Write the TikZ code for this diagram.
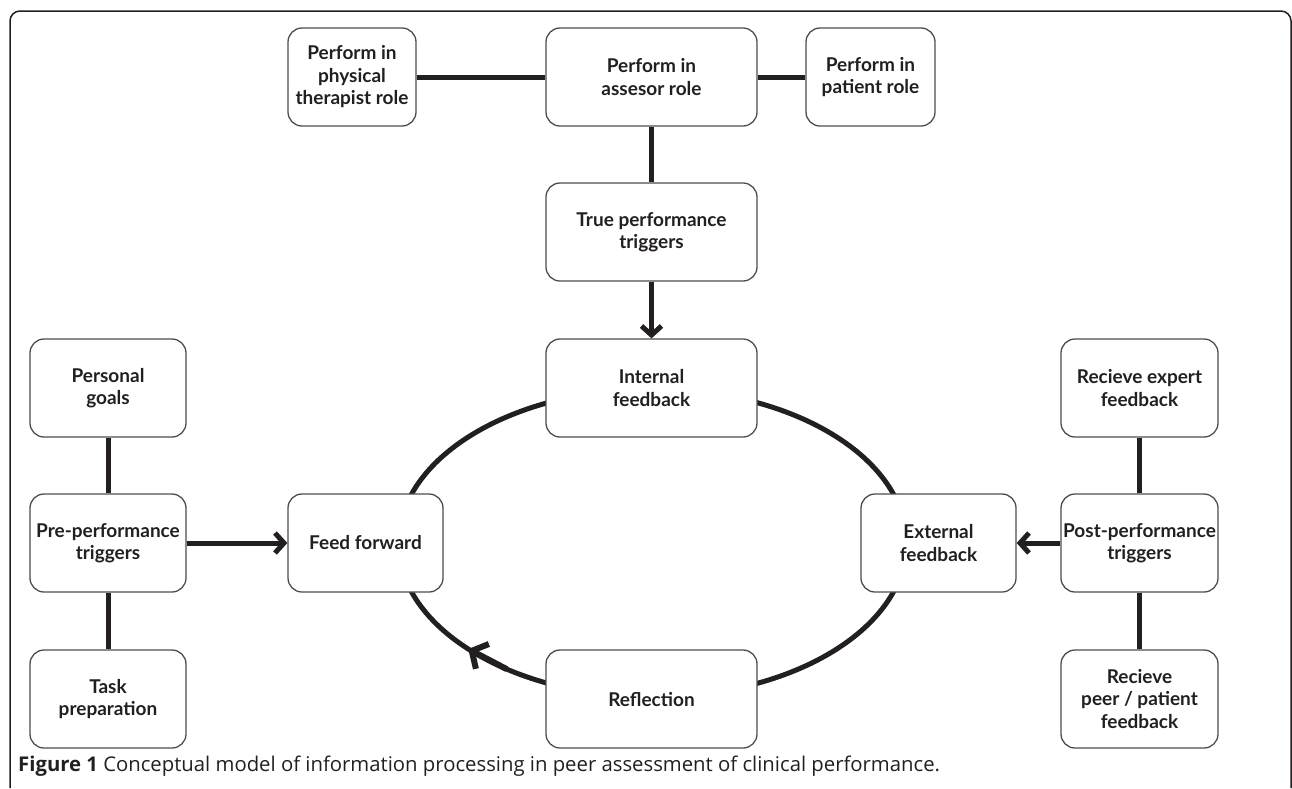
\documentclass[tikz,border=0pt]{standalone}
\usepackage{fontspec}
\setmainfont{Lato}
\newfontfamily\capfont{Open Sans}
\usetikzlibrary{arrows.meta}
\definecolor{ink}{HTML}{231F20}
\definecolor{edgegray}{HTML}{4D4D4F}
\begin{document}
\begin{tikzpicture}[x=1pt,y=-1pt,
  box/.style={draw=edgegray, line width=1.3pt, fill=white, rounded corners=14pt,
    align=center, font=\bfseries\fontsize{19}{22.5}\selectfont, text=ink,
    inner sep=0pt, minimum height=98pt},
  link/.style={draw=ink, line width=5pt},
  arr/.style={link, -{Straight Barb[length=9pt,width=20pt]}},
]
\useasboundingbox (0,0) rectangle (1292,788);
\draw[draw=ink, line width=1.5pt, rounded corners=10pt] (10,788) -- (10,11) -- (1291,11) -- (1291,788);

% cycle
\coordinate (ec) at (652.5,543);
\draw[link] (ec) ellipse [x radius=254, y radius=154];

% boxes
\node[box, minimum width=128pt] (phys) at (352,77) {Perform in\\physical\\therapist role};
\node[box, minimum width=211pt] (asses) at (651.5,77) {Perform in\\assesor role};
\node[box, minimum width=129pt] (pat) at (870.5,77) {Perform in\\patient role};
\node[box, minimum width=211pt] (true) at (651.5,232) {True performance\\triggers};
\node[box, minimum width=211pt] (int) at (651.5,388) {Internal\\feedback};
\node[box, minimum width=156pt] (goals) at (108,388) {Personal\\goals};
\node[box, minimum width=156pt] (pre) at (108,543) {Pre-performance\\triggers};
\node[box, minimum width=155pt] (ff) at (365.5,543) {Feed forward};
\node[box, minimum width=155pt] (ext) at (938.5,543) {External\\feedback};
\node[box, minimum width=157pt] (post) at (1139.5,543) {Post-performance\\triggers};
\node[box, minimum width=157pt] (expert) at (1139.5,388) {Recieve expert\\feedback};
\node[box, minimum width=211pt] (refl) at (651.5,699) {Reflection};
\node[box, minimum width=156pt] (task) at (108,699) {Task\\preparation};
\node[box, minimum width=157pt] (peer) at (1139.5,699) {Recieve\\peer / patient\\feedback};

% connectors
\draw[link] (phys) -- (asses);
\draw[link] (asses) -- (pat);
\draw[link] (asses) -- (true);
\draw[arr] (true) -- (int);
\draw[link] (goals) -- (pre);
\draw[link] (pre) -- (task);
\draw[arr] (pre) -- (ff);
\draw[link] (expert) -- (post);
\draw[link] (post) -- (peer);
\draw[arr] (post) -- (ext);
\path (ec) ++(125:254 and 154) coordinate (cyA);
\path (ec) ++(136.5:254 and 154) coordinate (cyB);
\draw[link, line width=6pt, -{Straight Barb[length=12pt,width=28pt]}] (cyA) -- (cyB);

% caption
\node[anchor=base west, inner sep=0pt, text=ink, font=\capfont\fontsize{20.3}{22}\selectfont] (cap) at (18,771)
  {\textbf{Figure 1} Conceptual model of information processing in peer assessment of clinical performance.};
\end{tikzpicture}
\end{document}
